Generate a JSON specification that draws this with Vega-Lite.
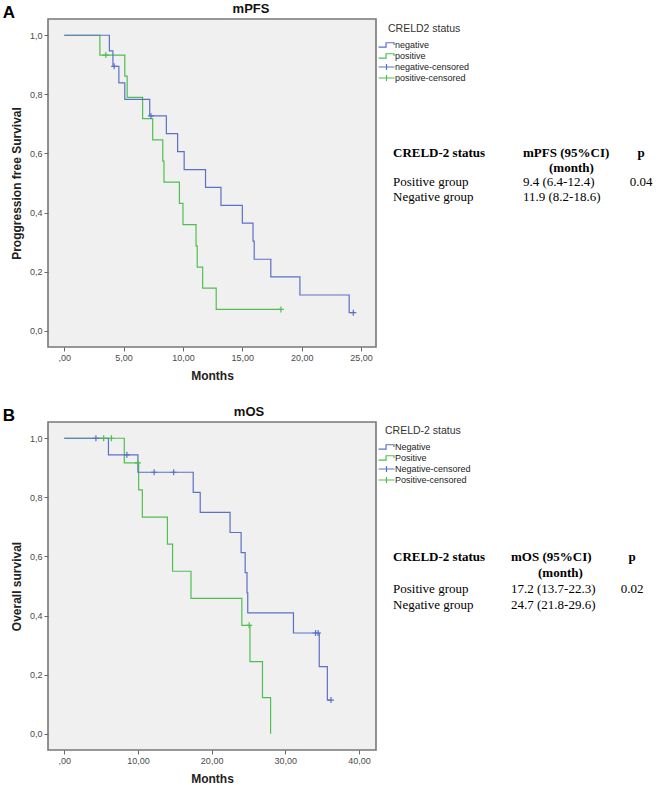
{
  "$schema": "https://vega.github.io/schema/vega-lite/v6.json",
  "padding": {"left": 2, "top": 2, "right": 0, "bottom": 0},
  "autosize": {"type": "pad"},
  "config": {
    "font": "Liberation Sans",
    "view": {"stroke": null},
    "axis": {
      "grid": false,
      "domain": false,
      "tickSize": 4,
      "tickColor": "#666666",
      "tickWidth": 1,
      "labelFont": "Liberation Sans",
      "labelFontSize": 9,
      "labelColor": "#4a4a4a",
      "labelPadding": 2,
      "titleFont": "Liberation Sans",
      "titleFontSize": 12,
      "titleFontWeight": "bold",
      "titleColor": "#222222"
    }
  },
  "datasets": {
    "pfs_curve": [
      {"status": "positive", "month": 0, "survival": 1.0},
      {"status": "positive", "month": 3.0, "survival": 0.933},
      {"status": "positive", "month": 5.1, "survival": 0.862},
      {"status": "positive", "month": 5.3, "survival": 0.79},
      {"status": "positive", "month": 6.6, "survival": 0.718},
      {"status": "positive", "month": 7.45, "survival": 0.646},
      {"status": "positive", "month": 8.3, "survival": 0.574},
      {"status": "positive", "month": 8.4, "survival": 0.503},
      {"status": "positive", "month": 9.7, "survival": 0.431},
      {"status": "positive", "month": 10.0, "survival": 0.359},
      {"status": "positive", "month": 11.1, "survival": 0.287},
      {"status": "positive", "month": 11.2, "survival": 0.215},
      {"status": "positive", "month": 11.66, "survival": 0.144},
      {"status": "positive", "month": 12.8, "survival": 0.072},
      {"status": "positive", "month": 18.25, "survival": 0.072},
      {"status": "negative", "month": 0, "survival": 1.0},
      {"status": "negative", "month": 3.8, "survival": 0.947},
      {"status": "negative", "month": 4.1, "survival": 0.895},
      {"status": "negative", "month": 4.6, "survival": 0.839},
      {"status": "negative", "month": 5.1, "survival": 0.783},
      {"status": "negative", "month": 7.2, "survival": 0.727},
      {"status": "negative", "month": 8.6, "survival": 0.667},
      {"status": "negative", "month": 9.55, "survival": 0.606},
      {"status": "negative", "month": 10.1, "survival": 0.545},
      {"status": "negative", "month": 11.9, "survival": 0.485},
      {"status": "negative", "month": 13.2, "survival": 0.424},
      {"status": "negative", "month": 15.0, "survival": 0.364},
      {"status": "negative", "month": 15.9, "survival": 0.303},
      {"status": "negative", "month": 16.0, "survival": 0.242},
      {"status": "negative", "month": 17.4, "survival": 0.182},
      {"status": "negative", "month": 19.85, "survival": 0.121},
      {"status": "negative", "month": 24.0, "survival": 0.061},
      {"status": "negative", "month": 24.35, "survival": 0.061}
    ],
    "pfs_censor": [
      {"status": "positive-censored", "month": 3.5, "survival": 0.933},
      {"status": "positive-censored", "month": 18.25, "survival": 0.072},
      {"status": "negative-censored", "month": 4.2, "survival": 0.895},
      {"status": "negative-censored", "month": 7.3, "survival": 0.727},
      {"status": "negative-censored", "month": 24.35, "survival": 0.061}
    ],
    "os_curve": [
      {"status": "Positive", "month": 0, "survival": 1.0},
      {"status": "Positive", "month": 8.15, "survival": 0.917},
      {"status": "Positive", "month": 10.1, "survival": 0.825},
      {"status": "Positive", "month": 10.6, "survival": 0.733},
      {"status": "Positive", "month": 14.0, "survival": 0.642},
      {"status": "Positive", "month": 14.7, "survival": 0.55},
      {"status": "Positive", "month": 17.2, "survival": 0.458},
      {"status": "Positive", "month": 24.1, "survival": 0.367},
      {"status": "Positive", "month": 25.2, "survival": 0.244},
      {"status": "Positive", "month": 26.9, "survival": 0.122},
      {"status": "Positive", "month": 28.0, "survival": 0.0},
      {"status": "Negative", "month": 0, "survival": 1.0},
      {"status": "Negative", "month": 6.0, "survival": 0.944},
      {"status": "Negative", "month": 10.0, "survival": 0.885},
      {"status": "Negative", "month": 17.5, "survival": 0.817},
      {"status": "Negative", "month": 18.45, "survival": 0.749},
      {"status": "Negative", "month": 22.5, "survival": 0.681},
      {"status": "Negative", "month": 24.0, "survival": 0.613},
      {"status": "Negative", "month": 24.55, "survival": 0.545},
      {"status": "Negative", "month": 24.8, "survival": 0.477},
      {"status": "Negative", "month": 24.9, "survival": 0.409},
      {"status": "Negative", "month": 31.1, "survival": 0.341},
      {"status": "Negative", "month": 34.6, "survival": 0.227},
      {"status": "Negative", "month": 35.7, "survival": 0.114},
      {"status": "Negative", "month": 36.2, "survival": 0.114}
    ],
    "os_censor": [
      {"status": "Positive-censored", "month": 5.35, "survival": 1.0},
      {"status": "Positive-censored", "month": 6.4, "survival": 1.0},
      {"status": "Positive-censored", "month": 10.0, "survival": 0.917},
      {"status": "Positive-censored", "month": 25.1, "survival": 0.367},
      {"status": "Negative-censored", "month": 4.3, "survival": 1.0},
      {"status": "Negative-censored", "month": 8.5, "survival": 0.944},
      {"status": "Negative-censored", "month": 12.2, "survival": 0.885},
      {"status": "Negative-censored", "month": 14.85, "survival": 0.885},
      {"status": "Negative-censored", "month": 34.1, "survival": 0.341},
      {"status": "Negative-censored", "month": 34.45, "survival": 0.341},
      {"status": "Negative-censored", "month": 36.2, "survival": 0.114}
    ],
    "pfs_table": [
      {"row": "header", "col": "status", "text": "CRELD-2 status"},
      {"row": "header", "col": "median", "text": "mPFS (95%CI)"},
      {"row": "header", "col": "p", "text": "p"},
      {"row": "unit", "col": "median", "text": "(month)"},
      {"row": "positive", "col": "status", "text": "Positive group"},
      {"row": "positive", "col": "median", "text": "9.4 (6.4-12.4)"},
      {"row": "positive", "col": "p", "text": "0.04"},
      {"row": "negative", "col": "status", "text": "Negative group"},
      {"row": "negative", "col": "median", "text": "11.9 (8.2-18.6)"}
    ],
    "os_table": [
      {"row": "header", "col": "status", "text": "CRELD-2 status"},
      {"row": "header", "col": "median", "text": "mOS (95%CI)"},
      {"row": "header", "col": "p", "text": "p"},
      {"row": "unit", "col": "median", "text": "(month)"},
      {"row": "positive", "col": "status", "text": "Positive group"},
      {"row": "positive", "col": "median", "text": "17.2 (13.7-22.3)"},
      {"row": "positive", "col": "p", "text": "0.02"},
      {"row": "negative", "col": "status", "text": "Negative group"},
      {"row": "negative", "col": "median", "text": "24.7 (21.8-29.6)"}
    ]
  },
  "vconcat": [
    {
      "title": {"text": "A", "anchor": "start", "frame": "bounds", "fontSize": 17, "fontWeight": "bold", "color": "#000000", "offset": -20, "dx": -7},
      "bounds": "flush",
      "spacing": 2,
      "resolve": {"scale": {"x": "independent", "y": "independent"}},
      "hconcat": [
        {
          "width": 328,
          "height": 328,
          "view": {"fill": "#f0f0f0", "stroke": "#777777", "strokeWidth": 1.6},
          "title": {"text": "mPFS", "frame": "group", "dx": 39, "offset": 3, "fontSize": 13, "fontWeight": "bold", "color": "#111111"},
          "encoding": {
            "x": {
              "field": "month", "type": "quantitative",
              "scale": {"domain": [-1.37, 26.26], "nice": false, "zero": false},
              "axis": {"title": "Months", "values": [0, 5, 10, 15, 20, 25], "labelExpr": "datum.value == 0 ? ',00' : replace(format(datum.value, '.2f'), '.', ',')", "titlePadding": 8}
            },
            "y": {
              "field": "survival", "type": "quantitative",
              "scale": {"domain": [-0.055, 1.055], "nice": false, "zero": false},
              "axis": {"title": "Proggression free Survival", "values": [0, 0.2, 0.4, 0.6, 0.8, 1.0], "labelExpr": "replace(format(datum.value, '.1f'), '.', ',')", "titlePadding": 6}
            },
            "color": {
              "field": "status", "type": "nominal",
              "scale": {"domain": ["negative", "positive", "negative-censored", "positive-censored"], "range": ["#5c70c8", "#4fc04f", "#5c70c8", "#4fc04f"]},
              "legend": {
                "orient": "none", "legendX": 333, "legendY": 5,
                "title": "CRELD2 status", "titleFont": "Liberation Sans", "titleFontSize": 10.5, "titleFontWeight": "normal", "titleColor": "#333333", "titlePadding": 5,
                "labelFont": "Liberation Sans", "labelFontSize": 9, "labelColor": "#222222", "labelOffset": 3,
                "symbolSize": 81, "symbolStrokeWidth": 1.2, "rowPadding": 0,
                "encode": {
                  "symbols": {"update": {"shape": {"signal": "indexof(datum.value, 'censored') >= 0 ? 'M-1.78,0H1.78M0,-0.65V0.65' : 'M-1.78,0.45H-0.1V-0.5H1.67V0'"}, "fill": {"value": "transparent"}}},
                  "title": {"update": {"dx": {"value": 7}}}
                }
              }
            }
          },
          "layer": [
            {
              "data": {"name": "pfs_curve"},
              "mark": {"type": "line", "interpolate": "step-after", "strokeWidth": 1.2}
            },
            {
              "data": {"name": "pfs_censor"},
              "mark": {"type": "point", "shape": "M-1,0H1M0,-1V1", "size": 36, "filled": false, "strokeWidth": 1.2, "opacity": 1}
            }
          ]
        },
        {
          "width": 284,
          "height": 328,
          "data": {"name": "pfs_table"},
          "encoding": {
            "x": {"field": "col", "type": "nominal", "scale": {"type": "point", "domain": ["status", "median", "p"], "range": [15, 275], "padding": 0}, "axis": null},
            "y": {"field": "row", "type": "nominal", "scale": {"type": "point", "domain": ["header", "unit", "positive", "negative"], "range": [134, 178], "padding": 0}, "axis": null},
            "text": {"field": "text"}
          },
          "layer": [
            {"transform": [{"filter": "datum.row == 'header' && datum.col != 'p'"}], "mark": {"type": "text", "align": "left", "font": "Liberation Serif", "fontSize": 13, "fontWeight": "bold", "color": "#000000"}},
            {"transform": [{"filter": "datum.row == 'unit'"}], "mark": {"type": "text", "align": "left", "dx": 26, "font": "Liberation Serif", "fontSize": 13, "fontWeight": "bold", "color": "#000000"}},
            {"transform": [{"filter": "datum.row == 'header' && datum.col == 'p'"}], "mark": {"type": "text", "align": "center", "dx": -12, "font": "Liberation Serif", "fontSize": 13, "fontWeight": "bold", "color": "#000000"}},
            {"transform": [{"filter": "datum.row != 'header' && datum.row != 'unit' && datum.col != 'p'"}], "mark": {"type": "text", "align": "left", "font": "Liberation Serif", "fontSize": 13, "color": "#000000"}},
            {"transform": [{"filter": "datum.row != 'header' && datum.col == 'p'"}], "mark": {"type": "text", "align": "center", "dx": -12, "font": "Liberation Serif", "fontSize": 13, "color": "#000000"}}
          ]
        }
      ]
    },
    {
      "title": {"text": "B", "anchor": "start", "frame": "bounds", "fontSize": 17, "fontWeight": "bold", "color": "#000000", "offset": -20, "dx": -7},
      "bounds": "flush",
      "spacing": 2,
      "resolve": {"scale": {"x": "independent", "y": "independent"}},
      "hconcat": [
        {
          "width": 328,
          "height": 328,
          "view": {"fill": "#f0f0f0", "stroke": "#777777", "strokeWidth": 1.6},
          "title": {"text": "mOS", "frame": "group", "dx": 37, "offset": 3, "fontSize": 13, "fontWeight": "bold", "color": "#111111"},
          "encoding": {
            "x": {
              "field": "month", "type": "quantitative",
              "scale": {"domain": [-2.2, 42.3], "nice": false, "zero": false},
              "axis": {"title": "Months", "values": [0, 10, 20, 30, 40], "labelExpr": "datum.value == 0 ? ',00' : replace(format(datum.value, '.2f'), '.', ',')", "titlePadding": 8}
            },
            "y": {
              "field": "survival", "type": "quantitative",
              "scale": {"domain": [-0.055, 1.055], "nice": false, "zero": false},
              "axis": {"title": "Overall survival", "values": [0, 0.2, 0.4, 0.6, 0.8, 1.0], "labelExpr": "replace(format(datum.value, '.1f'), '.', ',')", "titlePadding": 6}
            },
            "color": {
              "field": "status", "type": "nominal",
              "scale": {"domain": ["Negative", "Positive", "Negative-censored", "Positive-censored"], "range": ["#5c70c8", "#4fc04f", "#5c70c8", "#4fc04f"]},
              "legend": {
                "orient": "none", "legendX": 333, "legendY": 4,
                "title": "CRELD-2 status", "titleFont": "Liberation Sans", "titleFontSize": 10.5, "titleFontWeight": "normal", "titleColor": "#333333", "titlePadding": 5,
                "labelFont": "Liberation Sans", "labelFontSize": 9, "labelColor": "#222222", "labelOffset": 3,
                "symbolSize": 81, "symbolStrokeWidth": 1.2, "rowPadding": 0,
                "encode": {
                  "symbols": {"update": {"shape": {"signal": "indexof(datum.value, 'censored') >= 0 ? 'M-1.78,0H1.78M0,-0.65V0.65' : 'M-1.78,0.45H-0.1V-0.5H1.67V0'"}, "fill": {"value": "transparent"}}},
                  "title": {"update": {"dx": {"value": 4}}}
                }
              }
            }
          },
          "layer": [
            {
              "data": {"name": "os_curve"},
              "mark": {"type": "line", "interpolate": "step-after", "strokeWidth": 1.2}
            },
            {
              "data": {"name": "os_censor"},
              "mark": {"type": "point", "shape": "M-1,0H1M0,-1V1", "size": 36, "filled": false, "strokeWidth": 1.2, "opacity": 1}
            }
          ]
        },
        {
          "width": 284,
          "height": 328,
          "data": {"name": "os_table"},
          "encoding": {
            "x": {"field": "col", "type": "nominal", "scale": {"type": "point", "domain": ["status", "median", "p"], "range": [15, 251], "padding": 0}, "axis": null},
            "y": {"field": "row", "type": "nominal", "scale": {"type": "point", "domain": ["header", "unit", "positive", "negative"], "range": [135, 183], "padding": 0}, "axis": null},
            "text": {"field": "text"}
          },
          "layer": [
            {"transform": [{"filter": "datum.row == 'header' && datum.col != 'p'"}], "mark": {"type": "text", "align": "left", "font": "Liberation Serif", "fontSize": 13, "fontWeight": "bold", "color": "#000000"}},
            {"transform": [{"filter": "datum.row == 'unit'"}], "mark": {"type": "text", "align": "left", "dx": 27, "font": "Liberation Serif", "fontSize": 13, "fontWeight": "bold", "color": "#000000"}},
            {"transform": [{"filter": "datum.row == 'header' && datum.col == 'p'"}], "mark": {"type": "text", "align": "center", "dx": 3, "font": "Liberation Serif", "fontSize": 13, "fontWeight": "bold", "color": "#000000"}},
            {"transform": [{"filter": "datum.row != 'header' && datum.row != 'unit' && datum.col != 'p'"}], "mark": {"type": "text", "align": "left", "font": "Liberation Serif", "fontSize": 13, "color": "#000000"}},
            {"transform": [{"filter": "datum.row != 'header' && datum.col == 'p'"}], "mark": {"type": "text", "align": "center", "dx": 3, "font": "Liberation Serif", "fontSize": 13, "color": "#000000"}}
          ]
        }
      ]
    }
  ],
  "spacing": 23,
  "resolve": {"scale": {"color": "independent"}, "legend": {"color": "independent"}}
}
